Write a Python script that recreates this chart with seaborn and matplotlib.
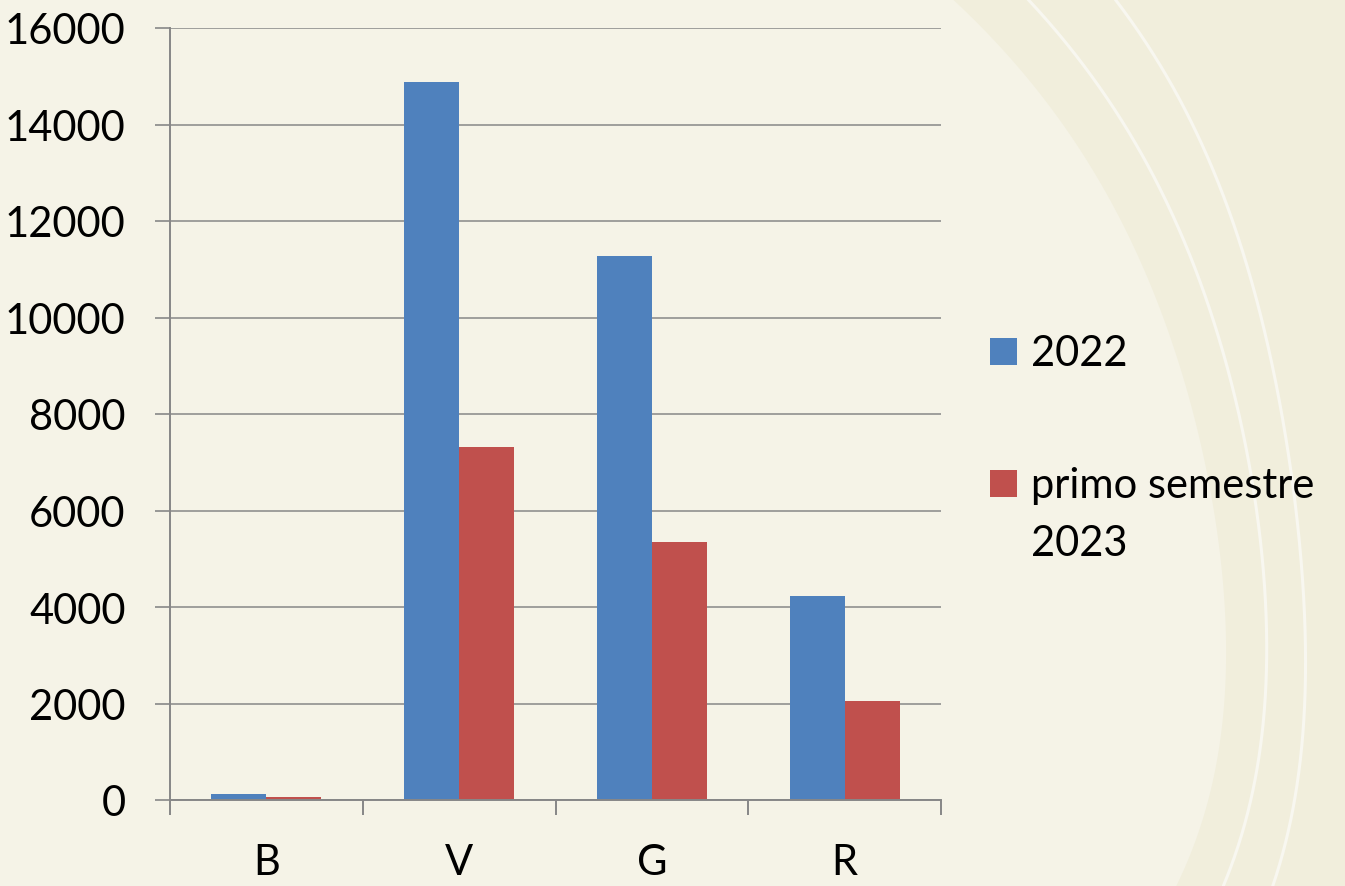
import numpy as np
import pandas as pd
import matplotlib
matplotlib.use("Agg")
import matplotlib.pyplot as plt
import seaborn as sns
from matplotlib.patches import Rectangle

# ---- data ----
categories = ["B", "V", "G", "R"]
series_names = ["2022", "primo semestre 2023"]
values_2022 = [125, 14880, 11280, 4230]
values_2023 = [60, 7320, 5350, 2050]
y_ticks = [0, 2000, 4000, 6000, 8000, 10000, 12000, 14000, 16000]
legend_lines = [["2022"], ["primo semestre", "2023"]]

df = pd.DataFrame({
    "cat": categories * 2,
    "serie": [series_names[0]] * 4 + [series_names[1]] * 4,
    "val": values_2022 + values_2023,
})

BG = "#F5F3E7"
BG_DARK = "#F1EEDC"
ARC = "#F8F7F0"
BLUE = "#4F81BD"
RED = "#C0504D"
GRID = "#878787"
FS = 30

sns.set_theme(style="white")
plt.rcParams["font.family"] = ["Lato", "DejaVu Sans"]

W, H = 1345, 887
fig = plt.figure(figsize=(W / 100, H / 100), dpi=100, facecolor=BG)

# ---- background decoration (pixel coordinates) ----
bg = fig.add_axes([0, 0, 1, 1], zorder=-10)
bg.set_xlim(0, W)
bg.set_ylim(H, 0)
bg.axis("off")
yy = np.linspace(0, H, 400)
def curve(pts):
    py = np.array([p[0] for p in pts], float) / H
    px = np.array([p[1] for p in pts], float)
    c = np.polyfit(py, px, 4)
    return np.polyval(c, yy / H)
light_edge = curve([(0, 953), (80, 1027), (300, 1157), (380, 1183), (600, 1223), (680, 1225), (807, 1207), (887, 1175)])
arc1 = curve([(0, 1028), (80, 1093), (300, 1207), (380, 1230), (600, 1265), (680, 1266), (807, 1250), (887, 1223)])
arc2 = curve([(0, 1115), (80, 1168), (300, 1258), (380, 1273), (600, 1305), (680, 1305), (807, 1293), (887, 1273)])
bg.fill_betweenx(yy, light_edge, W, color=BG_DARK, lw=0)
bg.plot(arc1, yy, color=ARC, lw=2.2)
bg.plot(arc2, yy, color=ARC, lw=2.2)

# ---- main chart ----
ax = fig.add_axes([170 / W, 1 - 801 / H, (941 - 170) / W, (801 - 29) / H], zorder=1)
ax.set_facecolor("none")
sns.barplot(data=df, x="cat", y="val", hue="serie", order=categories,
            hue_order=series_names, palette=[BLUE, RED], saturation=1,
            width=0.57, gap=0, linewidth=0, ax=ax, legend=False)

ax.set_ylim(0, 16000)
ax.set_xlim(-0.5, len(categories) - 0.5)
ax.set_yticks(y_ticks)
ax.set_yticklabels([str(t) for t in y_ticks])
ax.set_xlabel("")
ax.set_ylabel("")
ax.yaxis.grid(True, color=GRID, lw=1.1)
ax.set_axisbelow(True)
for s in ["top", "right"]:
    ax.spines[s].set_visible(False)
for s in ["left", "bottom"]:
    ax.spines[s].set_color(GRID)
    ax.spines[s].set_linewidth(1.4)

ax.set_xticks(np.arange(-0.5, len(categories), 1.0), minor=True)
ax.tick_params(axis="x", which="minor", bottom=True, length=11, width=1.4, color=GRID, direction="out")
ax.tick_params(axis="x", which="major", bottom=True, length=0, pad=31, labelsize=FS, labelcolor="black")
ax.tick_params(axis="y", which="major", left=True, length=11, width=1.2, color=GRID, pad=21,
               labelsize=FS, labelcolor="black")

# ---- legend (pixel coordinates in overlay) ----
colors = [BLUE, RED]
square_tops = [339, 471]
baselines = [[366], [498, 556]]
for col, top, lines, bls in zip(colors, square_tops, legend_lines, baselines):
    bg.add_patch(Rectangle((990, top), 27, 27, facecolor=col, edgecolor="none"))
    for txt, b in zip(lines, bls):
        bg.text(1031, b, txt, fontsize=FS, color="black", va="baseline", ha="left")

fig.savefig("out.png", dpi=100, facecolor=BG)
